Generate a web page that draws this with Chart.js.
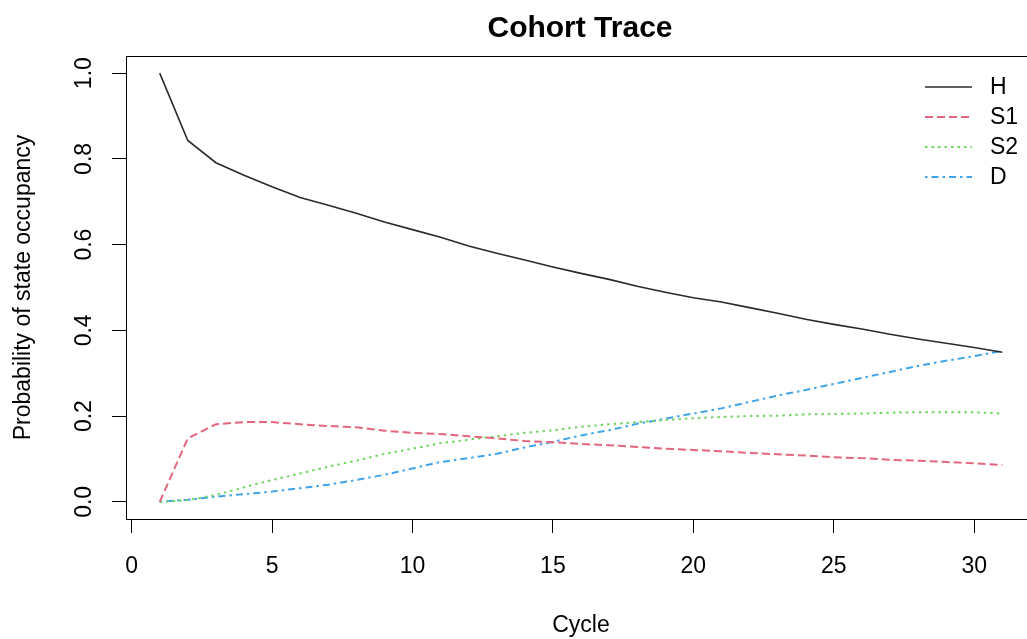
<!DOCTYPE html>
<html>
<head>
<meta charset="utf-8">
<title>Cohort Trace</title>
<script src="https://cdn.jsdelivr.net/npm/chart.js@4.4.1/dist/chart.umd.min.js"></script>
<style>
	html, body { margin: 0; padding: 0; background: #fff; overflow: hidden; }
	#wrap { position: relative; width: 1050px; height: 639px; }
</style>
</head>
<body>
<div id="wrap"><canvas id="cohort_trace"></canvas></div>
<script>

// cohort trace, one value per cycle
var cycles = [1, 2, 3, 4, 5, 6, 7, 8, 9, 10, 11, 12, 13, 14, 15, 16, 17, 18, 19, 20, 21, 22, 23, 24, 25, 26, 27, 28, 29, 30, 31];
var stateH  = [1.000, 0.843, 0.791, 0.762, 0.735, 0.710, 0.692, 0.673, 0.653, 0.635, 0.617, 0.597, 0.580, 0.564, 0.548, 0.533, 0.519, 0.503, 0.489, 0.476, 0.466, 0.453, 0.440, 0.426, 0.414, 0.403, 0.391, 0.380, 0.370, 0.360, 0.349];
var stateS1 = [0.000, 0.148, 0.181, 0.186, 0.186, 0.181, 0.177, 0.174, 0.166, 0.161, 0.158, 0.153, 0.148, 0.142, 0.139, 0.135, 0.132, 0.128, 0.124, 0.121, 0.118, 0.114, 0.111, 0.108, 0.104, 0.102, 0.098, 0.096, 0.093, 0.090, 0.086];
var stateS2 = [0.000, 0.004, 0.016, 0.034, 0.051, 0.066, 0.082, 0.096, 0.112, 0.124, 0.137, 0.145, 0.153, 0.161, 0.167, 0.175, 0.181, 0.186, 0.191, 0.195, 0.198, 0.200, 0.201, 0.204, 0.205, 0.206, 0.208, 0.209, 0.209, 0.209, 0.206];
var stateD  = [0.000, 0.005, 0.012, 0.018, 0.024, 0.032, 0.040, 0.051, 0.063, 0.078, 0.093, 0.102, 0.112, 0.127, 0.140, 0.155, 0.167, 0.182, 0.194, 0.206, 0.218, 0.233, 0.248, 0.261, 0.275, 0.289, 0.303, 0.317, 0.329, 0.340, 0.352];

var stateNames = ["H", "S1", "S2", "D"];
var xTicks = [0, 5, 10, 15, 20, 25, 30];
var yTicks = [0.0, 0.2, 0.4, 0.6, 0.8, 1.0];

var chartTitle = "Cohort Trace";
var xTitle = "Cycle";
var yTitle = "Probability of state occupancy";

var FONT = "'Liberation Sans', Arial, sans-serif";

function toPoints(vals){
	return cycles.map(function(c, i){ return { x: c, y: vals[i] }; });
}

// title, rotated y labels, box and legend like base R
var rStylePlugin = {
	id: 'rStyle',
	afterDraw: function(chart){
		var ctx = chart.ctx;
		var area = chart.chartArea;
		var yScale = chart.scales.y;

		ctx.save();

		// plot box
		ctx.strokeStyle = '#000';
		ctx.lineWidth = 1;
		ctx.setLineDash([]);
		ctx.strokeRect(area.left + 0.5, area.top + 0.5, area.right - area.left, area.bottom - area.top);

		// main title
		ctx.fillStyle = '#000';
		ctx.font = 'bold 30px ' + FONT;
		ctx.textAlign = 'center';
		ctx.textBaseline = 'middle';
		ctx.fillText(chartTitle, (area.left + area.right) / 2 - 1, 29);

		// y tick labels, parallel to the axis
		ctx.font = '23px ' + FONT;
		yTicks.forEach(function(v){
			var py = yScale.getPixelForValue(v);
			ctx.save();
			ctx.translate(area.left - 35, py);
			ctx.rotate(-Math.PI / 2);
			ctx.textAlign = 'center';
			ctx.textBaseline = 'alphabetic';
			ctx.fillText(v.toFixed(1), 0, 0);
			ctx.restore();
		});

		// legend, top right, no box
		var lx = 925, lw = 47, ly = 87, step = 30;
		chart.data.datasets.forEach(function(ds, i){
			var y = ly + i * step;
			ctx.strokeStyle = ds.borderColor;
			ctx.lineWidth = ds.borderWidth;
			ctx.setLineDash(ds.borderDash || []);
			ctx.beginPath();
			ctx.moveTo(lx, y);
			ctx.lineTo(lx + lw, y);
			ctx.stroke();
			ctx.setLineDash([]);
			ctx.fillStyle = '#000';
			ctx.textAlign = 'left';
			ctx.textBaseline = 'middle';
			ctx.fillText(ds.label, 990, y + 1);
		});

		ctx.restore();
	}
};

function init_cohort_trace(){

	if( typeof (Chart) === 'undefined'){ return; }

	var settings = {
		type: 'line',
		data: {
			datasets: [
				{ label: stateNames[0], data: toPoints(stateH),  borderColor: '#2a2a2a', borderWidth: 1.6, borderDash: [] },
				{ label: stateNames[1], data: toPoints(stateS1), borderColor: '#E3667C', borderWidth: 2, borderDash: [8, 4] },
				{ label: stateNames[2], data: toPoints(stateS2), borderColor: '#72D462', borderWidth: 2, borderDash: [2.5, 4] },
				{ label: stateNames[3], data: toPoints(stateD),  borderColor: '#3FA4EA', borderWidth: 2, borderDash: [2.5, 4, 7, 4] }
			]
		},
		options: {
			responsive: true,
			maintainAspectRatio: false,
			animation: false,
			events: [],
			layout: { padding: { top: 56, right: 14, left: 0, bottom: 0 } },
			elements: {
				line: { tension: 0, fill: false },
				point: { radius: 0 }
			},
			plugins: {
				legend: { display: false },
				title: { display: false },
				tooltip: { enabled: false }
			},
			scales: {
				x: {
					type: 'linear',
					min: -0.2,
					max: 32.2,
					afterBuildTicks: function(scale){
						scale.ticks = xTicks.map(function(v){ return { value: v }; });
					},
					afterFit: function(scale){ scale.height = 120; },
					grid: { drawOnChartArea: false, drawTicks: true, tickLength: 14, color: '#000', tickColor: '#000' },
					border: { display: true, color: '#000' },
					ticks: {
						color: '#000',
						padding: 20,
						maxRotation: 0,
						font: { family: FONT, size: 23 },
						callback: function(v){ return String(v); }
					},
					title: {
						display: true,
						text: xTitle,
						color: '#000',
						font: { family: FONT, size: 23 },
						padding: { top: 0, bottom: 0 }
					}
				},
				y: {
					type: 'linear',
					min: -0.04,
					max: 1.04,
					afterBuildTicks: function(scale){
						scale.ticks = yTicks.map(function(v){ return { value: v }; });
					},
					afterFit: function(scale){ scale.width = 126; },
					grid: { drawOnChartArea: false, drawTicks: true, tickLength: 14, color: '#000', tickColor: '#000' },
					border: { display: true, color: '#000' },
					ticks: { display: false },
					title: {
						display: true,
						text: yTitle,
						color: '#000',
						font: { family: FONT, size: 23 },
						padding: { top: 10, bottom: 0 }
					}
				}
			}
		},
		plugins: [rStylePlugin]
	};

	var chart_line = new Chart(document.getElementById('cohort_trace'), settings);
}

init_cohort_trace();
</script>
</body>
</html>
